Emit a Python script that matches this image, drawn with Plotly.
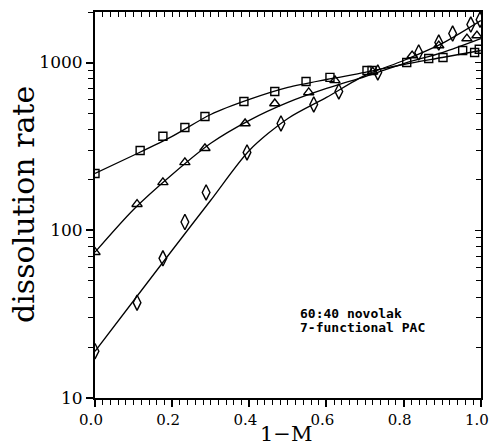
import plotly.graph_objects as go

# ---- data ----
sq_x = [0.0, 0.117, 0.176, 0.233, 0.285, 0.386, 0.466, 0.547, 0.609, 0.705, 0.718, 0.808, 0.865, 0.902, 0.953, 0.984, 0.996]
sq_y = [218, 299, 363, 410, 477, 586, 671, 771, 815, 896, 896, 1000, 1056, 1071, 1179, 1147, 1200]

tr_x = [0.0, 0.109, 0.176, 0.233, 0.285, 0.389, 0.466, 0.554, 0.622, 0.72, 0.822, 0.891, 0.964, 0.99]
tr_y = [74, 143, 193, 254, 308, 433, 570, 663, 782, 880, 1100, 1262, 1389, 1448]

di_x = [0.0, 0.109, 0.176, 0.233, 0.288, 0.394, 0.482, 0.567, 0.632, 0.733, 0.839, 0.891, 0.927, 0.974, 0.998]
di_y = [19, 37, 68, 112, 168, 291, 433, 562, 672, 872, 1147, 1315, 1488, 1684, 1800]

fit_x = [0.0, 0.1, 0.2, 0.3, 0.4, 0.5, 0.6, 0.7, 0.8, 0.9, 1.0]
fit_sq = [218, 280, 363, 490, 602, 710, 792, 872, 973, 1071, 1179]
fit_tr = [74, 133, 215, 330, 452, 578, 700, 825, 986, 1147, 1389]
fit_di = [19, 38, 76, 151, 299, 464, 619, 837, 1028, 1300, 1778]

x_ticks = [0.0, 0.2, 0.4, 0.6, 0.8, 1.0]
x_minor = [i / 50 for i in range(51)]
y_ticks = [10, 100, 1000]
y_minor = [20, 30, 40, 50, 60, 70, 80, 90, 200, 300, 400, 500, 600, 700, 800, 900, 2000]

x_title = "1\u2212M"
y_title = "dissolution rate"
note1 = "60:40 novolak"
note2 = "7-functional PAC"

fig = go.Figure()

line_style = dict(color="black", width=1.3, shape="spline", smoothing=0.8)
for fy in (fit_sq, fit_tr, fit_di):
    fig.add_trace(go.Scatter(x=fit_x, y=fy, mode="lines", line=line_style,
                             showlegend=False, hoverinfo="skip", cliponaxis=False))

mk_line = dict(color="black", width=1.4)
fig.add_trace(go.Scatter(x=sq_x, y=sq_y, mode="markers", showlegend=False,
                         marker=dict(symbol="square-open", size=8, color="black", line=mk_line)))
fig.add_trace(go.Scatter(x=tr_x, y=tr_y, mode="markers", showlegend=False,
                         marker=dict(symbol="triangle-up-open", size=9, color="black", line=mk_line)))
fig.add_trace(go.Scatter(x=di_x, y=di_y, mode="markers", showlegend=False,
                         marker=dict(symbol="diamond-tall-open", size=11, color="black", line=mk_line)))
# invisible trace to activate mirrored inner-tick axes
fig.add_trace(go.Scatter(x=[None], y=[None], xaxis="x2", yaxis="y2", showlegend=False))

tick_font = dict(family="DejaVu Serif", size=17, color="black")
yr = [1, 3.30103]
xr = [0, 1.0005]

fig.update_layout(
    width=492, height=448,
    margin=dict(l=95, r=11, t=12, b=50, autoexpand=False),
    paper_bgcolor="white", plot_bgcolor="white",
    xaxis=dict(range=xr, tickvals=x_ticks, ticktext=[f"{v:.1f}" for v in x_ticks],
               ticks="outside", ticklen=7, tickwidth=1.5, tickcolor="black",
               ticklabeloverflow="allow", automargin=False, ticklabelshift=-4,
               showline=True, linecolor="black", linewidth=2, showgrid=False, zeroline=False,
               tickfont=dict(family="DejaVu Serif", size=15, color="black"),
               minor=dict(tickvals=x_minor, ticks="outside", ticklen=5, tickwidth=1.2,
                          tickcolor="black", showgrid=False)),
    yaxis=dict(type="log", range=yr, tickvals=y_ticks, ticktext=[str(v) for v in y_ticks],
               ticks="outside", ticklen=7, tickwidth=1.5, tickcolor="black", automargin=False,
               showline=True, linecolor="black", linewidth=2, showgrid=False, zeroline=False,
               tickfont=tick_font,
               minor=dict(tickvals=y_minor, ticks="outside", ticklen=5, tickwidth=1.2,
                          tickcolor="black", showgrid=False)),
    xaxis2=dict(overlaying="x", side="top", range=xr, tickvals=x_ticks, automargin=False,
                showticklabels=False, ticks="inside", ticklen=5, tickwidth=1.3, tickcolor="black",
                showline=True, linecolor="black", linewidth=2, showgrid=False, zeroline=False,
                minor=dict(tickvals=x_minor, ticks="inside", ticklen=5, tickwidth=1.2,
                           tickcolor="black", showgrid=False)),
    yaxis2=dict(overlaying="y", side="right", type="log", range=yr, tickvals=y_ticks,
                automargin=False,
                showticklabels=False, ticks="inside", ticklen=6, tickwidth=1.3, tickcolor="black",
                showline=True, linecolor="black", linewidth=2, showgrid=False, zeroline=False,
                minor=dict(tickvals=y_minor, ticks="inside", ticklen=5, tickwidth=1.2,
                           tickcolor="black", showgrid=False)),
    annotations=[
        dict(text=x_title, x=0.495, y=0, xref="paper", yref="paper", yshift=-36,
             xanchor="center", yanchor="middle", showarrow=False, borderpad=0,
             font=dict(family="DejaVu Serif", size=21, color="black")),
        dict(text=y_title, x=0, y=0.5, xref="paper", yref="paper", xshift=-72,
             xanchor="center", yanchor="middle", textangle=-90, showarrow=False,
             font=dict(family="DejaVu Serif", size=30, color="black")),
        dict(text="<b>" + note1 + "</b>", x=0.527, y=0.218, xref="paper", yref="paper",
             xanchor="left", yanchor="middle", showarrow=False,
             font=dict(family="DejaVu Sans Mono", size=13, color="black")),
        dict(text="<b>" + note2 + "</b>", x=0.527, y=0.182, xref="paper", yref="paper",
             xanchor="left", yanchor="middle", showarrow=False,
             font=dict(family="DejaVu Sans Mono", size=13, color="black")),
    ],
)

fig.write_html("out.html")
